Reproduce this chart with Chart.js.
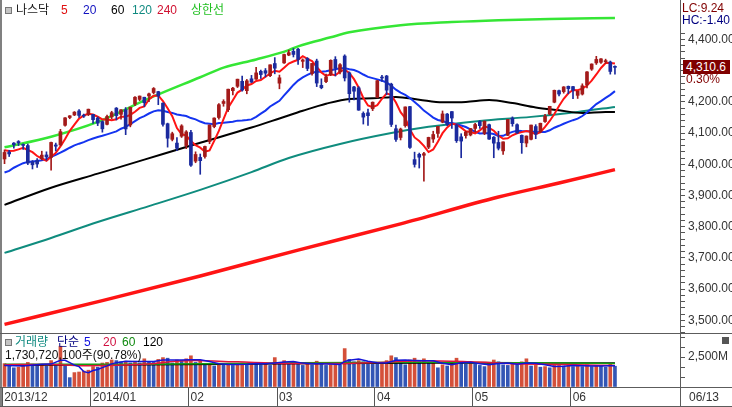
<!DOCTYPE html>
<html lang="ko">
<head>
<meta charset="utf-8">
<title>나스닥</title>
<script src="https://cdn.jsdelivr.net/npm/chart.js@4.4.1/dist/chart.umd.min.js"></script>
<style>
  html, body { margin:0; padding:0; background:#fff; }
  #wrap { position:relative; width:732px; height:407px; overflow:hidden; background:#fff;
          font-family:"Liberation Sans","Noto Sans CJK KR",sans-serif; font-size:12px; }
  canvas { position:absolute; left:0; }
  #price { top:0; }
  #vol { top:333px; }
  .t { position:absolute; white-space:nowrap; line-height:14px; z-index:3; }
  .ln { position:absolute; background:#5c5c5c; z-index:2; }
  .ico { position:absolute; width:5px; height:5px; border:1px solid #777; background:#c4c4c4; z-index:3; }
</style>
</head>
<body>
<div id="wrap">
  <canvas id="price" width="732" height="333"></canvas>
  <canvas id="vol" width="732" height="74"></canvas>

  <div class="ln" style="left:0;top:0;width:2px;height:407px;background:#808080"></div>
  <div class="ln" style="left:0;top:333px;width:732px;height:1px"></div>
  <div class="ln" style="left:0;top:387px;width:732px;height:1px"></div>
  <div class="ln" style="left:0;top:406px;width:732px;height:1px"></div>
  <div class="ln" style="left:680px;top:0;width:1px;height:407px"></div>

  <div class="ico" style="left:5px;top:7px"></div>
  <span class="t" style="left:16px;top:3px;color:#1a1a1a">나스닥</span>
  <span class="t" style="left:61px;top:3px;color:#e01010">5</span>
  <span class="t" style="left:83px;top:3px;color:#1010c0">20</span>
  <span class="t" style="left:111px;top:3px;color:#000">60</span>
  <span class="t" style="left:132px;top:3px;color:#108a80">120</span>
  <span class="t" style="left:157px;top:3px;color:#d01030">240</span>
  <span class="t" style="left:191px;top:3px;color:#22c022">상한선</span>

  <span class="t" style="left:682px;top:1px;color:#800000">LC:9.24</span>
  <span class="t" style="left:682px;top:13px;color:#000080">HC:-1.40</span>
  <span class="t" style="left:683px;top:60px;width:44px;height:14px;padding-left:3px;background:#800000;color:#fff">4,310.6</span>
  <span class="t" style="left:686px;top:72px;color:#800000">0.30%</span>

  <div class="ico" style="left:5px;top:339px"></div>
  <span class="t" style="left:15px;top:335px;color:#108a80">거래량</span>
  <span class="t" style="left:57px;top:335px;color:#000080">단순</span>
  <span class="t" style="left:84px;top:335px;color:#1010e0">5</span>
  <span class="t" style="left:103px;top:335px;color:#d01040">20</span>
  <span class="t" style="left:122px;top:335px;color:#108a10">60</span>
  <span class="t" style="left:143px;top:335px;color:#000">120</span>
  <span class="t" style="left:5px;top:348px;color:#111">1,730,720,100주(90.78%)</span>
  <div style="position:absolute;left:722px;top:337px;width:7px;height:7px;background:#555;z-index:3"></div>

  <span class="t" style="left:689px;top:390px;color:#333">06/13</span>
</div>

<script>
// ---------- data ----------
const dates = [
 '2013/12/04','2013/12/05','2013/12/06','2013/12/09','2013/12/10','2013/12/11','2013/12/12','2013/12/13','2013/12/16','2013/12/17','2013/12/18','2013/12/19','2013/12/20','2013/12/23','2013/12/24','2013/12/26','2013/12/27','2013/12/30','2013/12/31',
 '2014/01/02','2014/01/03','2014/01/06','2014/01/07','2014/01/08','2014/01/09','2014/01/10','2014/01/13','2014/01/14','2014/01/15','2014/01/16','2014/01/17','2014/01/21','2014/01/22','2014/01/23','2014/01/24','2014/01/27','2014/01/28','2014/01/29','2014/01/30','2014/01/31',
 '2014/02/03','2014/02/04','2014/02/05','2014/02/06','2014/02/07','2014/02/10','2014/02/11','2014/02/12','2014/02/13','2014/02/14','2014/02/18','2014/02/19','2014/02/20','2014/02/21','2014/02/24','2014/02/25','2014/02/26','2014/02/27','2014/02/28',
 '2014/03/03','2014/03/04','2014/03/05','2014/03/06','2014/03/07','2014/03/10','2014/03/11','2014/03/12','2014/03/13','2014/03/14','2014/03/17','2014/03/18','2014/03/19','2014/03/20','2014/03/21','2014/03/24','2014/03/25','2014/03/26','2014/03/27','2014/03/28','2014/03/31',
 '2014/04/01','2014/04/02','2014/04/03','2014/04/04','2014/04/07','2014/04/08','2014/04/09','2014/04/10','2014/04/11','2014/04/14','2014/04/15','2014/04/16','2014/04/17','2014/04/21','2014/04/22','2014/04/23','2014/04/24','2014/04/25','2014/04/28','2014/04/29','2014/04/30',
 '2014/05/01','2014/05/02','2014/05/05','2014/05/06','2014/05/07','2014/05/08','2014/05/09','2014/05/12','2014/05/13','2014/05/14','2014/05/15','2014/05/16','2014/05/19','2014/05/20','2014/05/21','2014/05/22','2014/05/23','2014/05/27','2014/05/28','2014/05/29','2014/05/30',
 '2014/06/02','2014/06/03','2014/06/04','2014/06/05','2014/06/06','2014/06/09','2014/06/10','2014/06/11','2014/06/12','2014/06/13'];

const opens = [
 4017,4039,4068,4073,4062,4060,4008,4013,4018,4030,4022,4062,4062,4125,4150,4158,4171,4157,4160,
 4160,4148,4137,4128,4152,4180,4160,4175,4126,4193,4208,4215,4219,4230,4233,4196,4130,4080,4068,4090,4060,
 4102,4010,4022,4025,4073,4121,4150,4195,4175,4236,4250,4266,4236,4274,4273,4298,4300,4284,4323,
 4260,4325,4350,4362,4369,4330,4339,4291,4331,4253,4265,4287,4336,4296,4347,4293,4248,4245,4163,4165,4178,
 4215,4279,4283,4257,4114,4086,4124,4185,4015,4032,4029,4055,4081,4099,4135,4161,4169,4126,4088,4092,4094,
 4115,4137,4099,4127,4087,4070,4043,4093,4148,4127,4093,4068,4080,4121,4104,4137,4161,4199,4236,4233,4250,
 4249,4221,4225,4255,4305,4325,4327,4329,4328,4314];
const highs = [
 4046,4045,4070,4076,4066,4065,4012,4018,4042,4040,4071,4068,4112,4150,4156,4169,4175,4161,4177,
 4160,4152,4139,4158,4170,4182,4175,4182,4183,4217,4219,4215,4228,4246,4234,4197,4132,4103,4086,4127,4108,
 4109,4040,4033,4058,4126,4149,4195,4207,4241,4247,4273,4283,4272,4285,4311,4302,4307,4319,4342,
 4286,4353,4366,4371,4372,4338,4342,4324,4337,4274,4289,4335,4345,4323,4351,4296,4250,4249,4168,4177,4200,
 4269,4285,4285,4260,4126,4116,4184,4186,4039,4036,4038,4087,4106,4122,4171,4163,4169,4128,4098,4106,4115,
 4131,4140,4139,4129,4089,4106,4072,4144,4152,4130,4094,4091,4126,4127,4132,4160,4186,4238,4238,4249,4251,
 4250,4235,4258,4297,4322,4346,4339,4337,4331,4316];
const lows = [
 4002,4025,4052,4060,4048,3999,3985,3990,4014,4013,3981,4043,4060,4122,4146,4156,4150,4150,4156,
 4131,4124,4103,4126,4146,4142,4145,4095,4120,4188,4204,4185,4201,4226,4191,4122,4055,4075,4044,4086,4050,
 3993,4005,3968,4020,4066,4117,4145,4186,4169,4222,4246,4234,4226,4262,4272,4275,4280,4281,4290,
 4242,4323,4348,4344,4320,4310,4300,4286,4249,4242,4262,4284,4283,4290,4267,4199,4206,4173,4129,4125,4172,
 4213,4266,4223,4121,4073,4078,4119,4051,3991,3988,3946,4050,4070,4086,4133,4124,4115,4070,4021,4084,4091,
 4103,4115,4095,4080,4021,4046,4032,4092,4122,4099,4035,4056,4078,4082,4101,4134,4159,4197,4219,4228,4226,
 4210,4211,4222,4245,4301,4320,4323,4323,4289,4289];
const closes = [
 4038.0,4033.2,4062.5,4068.8,4060.5,4003.8,3998.4,4001.0,4029.5,4023.7,4070.1,4058.1,4104.7,4148.9,4155.4,4167.2,4156.6,4154.2,4176.6,
 4143.1,4131.9,4113.7,4153.2,4165.6,4156.2,4174.7,4113.3,4183.0,4214.9,4218.7,4197.6,4225.8,4243.0,4218.9,4128.2,4083.6,4098.0,4051.4,4123.1,4103.9,
 3997.0,4031.5,4011.6,4057.1,4125.9,4148.2,4191.1,4201.3,4240.7,4244.0,4272.8,4238.0,4267.6,4263.4,4293.0,4287.6,4292.1,4318.9,4308.1,
 4277.3,4352.0,4358.0,4352.1,4336.2,4334.5,4307.2,4323.3,4260.4,4245.4,4280.0,4333.3,4307.6,4319.3,4276.8,4226.4,4234.3,4173.6,4151.2,4155.8,4199.0,
 4268.0,4276.5,4237.7,4127.7,4079.8,4113.0,4183.9,4054.1,3999.7,4022.7,4034.2,4086.2,4095.5,4121.6,4161.5,4127.0,4148.3,4075.6,4074.4,4103.5,4114.6,
 4127.5,4123.9,4138.1,4080.8,4067.7,4051.5,4071.9,4143.9,4130.2,4100.6,4069.3,4090.6,4125.8,4096.9,4131.5,4154.3,4185.8,4237.1,4225.1,4248.0,4242.6,
 4237.2,4234.1,4251.6,4296.2,4321.4,4336.2,4338.0,4331.9,4297.6,4310.7];

// volume in millions of shares
const volumes = [
 1950,1750,1600,1650,1850,2050,1900,1850,1850,1750,2200,1900,3400,1850,780,1200,1250,1330,1400,
 1700,1650,2000,2050,2250,2200,2100,2150,2000,2150,2000,2350,2100,2050,2300,2450,2400,2000,2250,2200,2350,
 2600,2050,2150,1900,1950,1750,1900,1850,1900,1800,1950,2000,1850,2050,1950,1850,2000,1800,2450,
 2000,2200,1900,2100,1950,1800,1950,1850,2150,1950,1800,1850,1950,1850,3200,2300,2100,2200,2100,2000,1950,
 1900,2000,2200,2600,2450,2100,1850,2250,2400,2100,2350,2000,2100,1600,1850,1750,2000,2400,2100,1900,1950,
 1900,1800,1700,1950,2250,2100,1850,1800,1900,1850,2100,2350,1750,1800,1650,1700,1600,1800,1800,1750,1950,
 1700,1750,1700,1850,1700,1800,1750,1650,1906,1731];

const ma5 = [
 4045.0,4042.7,4043.2,4047.9,4052.6,4045.8,4038.8,4026.5,4018.6,4011.3,4024.5,4036.5,4057.2,4081.1,4107.4,4126.9,4146.6,4156.5,4162.0,
 4159.5,4152.5,4143.9,4143.7,4141.5,4144.1,4152.7,4152.6,4158.6,4168.4,4180.9,4185.5,4208.0,4220.0,4220.8,4202.7,4179.9,4154.3,4116.0,4096.9,4092.0,
 4074.7,4061.4,4053.4,4040.2,4044.6,4074.9,4106.8,4144.7,4181.4,4205.1,4230.0,4239.4,4252.6,4257.2,4267.0,4269.9,4280.7,4291.0,4299.9,
 4296.8,4309.7,4322.9,4329.5,4335.1,4346.6,4337.6,4330.7,4312.3,4294.2,4283.3,4288.5,4285.3,4297.1,4303.4,4292.7,4272.9,4246.1,4212.5,4188.3,4182.8,
 4189.5,4210.1,4227.4,4221.8,4197.9,4166.9,4148.4,4111.7,4086.1,4074.7,4058.9,4039.4,4047.7,4072.0,4099.8,4118.4,4130.8,4126.8,4117.4,4105.8,4103.3,
 4099.1,4108.8,4121.5,4117.0,4107.6,4092.4,4082.0,4083.2,4093.0,4099.6,4103.2,4106.9,4103.3,4096.6,4102.8,4119.8,4138.9,4161.1,4186.8,4210.1,4227.7,
 4238.0,4237.4,4242.7,4252.3,4268.1,4287.9,4308.7,4324.7,4325.0,4322.9];
const ma20 = [
 3973.6,3978.7,3989.0,3996.4,4003.5,4007.7,4009.3,4010.7,4012.9,4016.6,4023.6,4030.4,4037.2,4045.0,4053.1,4060.5,4066.1,4070.9,4077.4,
 4082.7,4087.4,4091.4,4096.0,4100.8,4105.6,4114.1,4119.9,4129.0,4138.3,4148.0,4154.4,4162.8,4169.7,4173.2,4171.8,4167.6,4164.7,4159.6,4156.9,4154.9,
 4148.2,4144.1,4137.0,4131.6,4130.1,4128.7,4132.6,4133.5,4134.8,4136.1,4139.9,4140.5,4141.7,4143.9,4152.2,4162.4,4172.1,4185.4,4194.7,
 4203.4,4221.1,4237.4,4254.5,4268.4,4278.8,4286.8,4293.4,4296.4,4296.6,4298.4,4301.4,4304.9,4307.5,4308.2,4304.8,4302.2,4296.2,4287.8,4280.2,4276.3,
 4272.1,4268.0,4262.3,4251.9,4239.2,4229.5,4222.5,4212.2,4199.9,4187.0,4172.1,4161.0,4149.8,4142.0,4138.8,4133.4,4132.2,4128.4,4124.3,4119.5,4111.9,
 4104.4,4098.7,4099.3,4099.3,4097.0,4090.4,4091.3,4098.5,4103.9,4107.2,4106.4,4106.1,4106.3,4103.1,4103.3,4103.6,4109.1,4117.3,4123.4,4130.0,4135.8,
 4141.4,4146.2,4154.8,4166.2,4179.7,4192.9,4202.6,4212.7,4222.6,4234.6];

// smooth long lines, read at these day positions
const ma60Days = [0,10,20,30,42,53,59,64,69,74,79,84,89,94,99,104,109,114,119,124,129,131];
const ma60 = [3870,3925,3970,4015,4069,4118,4147,4171.5,4194.2,4209.6,4211.5,4216.0,4207.2,4198.6,4199.7,4205.8,4196.4,4182.2,4173.1,4164.4,4167.9,4167.3];
const ma120Days = [0,10,20,31,42,53,61,72,83,91,102,113,123,131];
const ma120 = [3716,3764,3815,3866,3918,3975,4020,4065,4100,4120,4139,4152,4168,4184];
const ma240Days = [0,21,42,63,85,106,119,131];
const ma240 = [3487,3563,3642,3725,3809,3895,3940,3983];
const upperDays = [0,10,20,31,42,47,54,61,63,70,74,85,96,106,117,131];
const upperLine = [4054.5,4088.5,4136,4211,4279,4310,4336,4366,4378,4407,4423,4446,4456,4462,4466,4469];

const vol5Days = [0,4,8,10,12,13,14,15,16,17,18,19,20,21,22,23,24,26,28,30,32,34,36,38,40,42,44,46,48,50,52,54,56,58,60,62,64,66,68,70,72,73,74,76,78,80,82,84,86,88,90,92,94,96,98,100,102,104,106,108,110,112,114,116,118,120,122,124,126,128,130,131];
const vol5 = [1800,1760,1900,1910,2220,2220,2026,1826,1696,1282,1192,1376,1466,1616,1760,1930,2030,2150,2120,2130,2130,2250,2240,2260,2280,2270,2130,1930,1870,1880,1900,1960,1940,2010,2090,2130,1990,1930,1940,1920,1880,2130,2230,2330,2140,2030,2010,2230,2240,2210,2190,2190,1980,1860,2020,2070,1930,1860,1960,1990,1900,2000,1970,1850,1710,1730,1800,1770,1740,1760,1761,1767];
const vol20Days = [0,10,18,30,40,50,60,70,80,90,100,110,120,131];
const vol20 = [1860,1880,1764,1886,2198,2095,1968,1960,2043,2193,2098,1938,1870,1784];
const vol60Days = [0,30,60,90,120,131];
const vol60 = [1900,1900,2010,2070,2010,1960];
const vol120Days = [0,30,60,90,120,131];
const vol120 = [1820,1860,1930,1990,2000,1990];

const monthStarts = [0,19,40,59,80,101,122];
const monthLabels = ['2013/12','2014/01','02','03','04','05','06'];
const priceTickLabels = [3500,3600,3700,3800,3900,4000,4100,4200,4400];
const volTickLabel = 2500;

// ---------- chart ----------
const X_MIN = -0.54, X_MAX = 144.96;
const P_MIN = 3459.3, P_MAX = 4526.6;
const V_MAX = 4416.7;
const UP = '#A31A1A', DOWN = '#1B2A9E';
const FONT = { family: "'Liberation Sans', 'Noto Sans CJK KR', sans-serif", size: 12 };

const candleColors = opens.map((o, i) => closes[i] >= o ? UP : DOWN);
const volColors = volumes.map((v, i) => (i === 0 || v >= volumes[i - 1]) ? '#D4503A' : '#3356B5');
const pts = (days, vals) => days.map((d, k) => ({ x: d, y: vals[k] }));
const daily = vals => vals.map((v, i) => ({ x: i, y: v }));
const fmtPrice = v => v.toLocaleString('en-US', { minimumFractionDigits: 2, maximumFractionDigits: 2 });

const minorPriceTicks = [];
for (let v = 3460; v <= 4420; v += 20) minorPriceTicks.push(v);
const volTicks = [0, volTickLabel / 3, volTickLabel * 2 / 3, volTickLabel, volTickLabel * 4 / 3, volTickLabel * 5 / 3];

function lineDs(data, color, width, order, smooth) {
  return { type: 'line', data, borderColor: color, borderWidth: width, pointRadius: 0, fill: false,
           tension: 0, cubicInterpolationMode: smooth ? 'monotone' : 'default', order };
}

new Chart(document.getElementById('price'), {
  type: 'bar',
  data: { datasets: [
    { type: 'bar', data: lows.map((l, i) => ({ x: i, y: [l, highs[i]] })), backgroundColor: candleColors,
      barThickness: 1, grouped: false, borderWidth: 0, order: 1 },
    { type: 'bar', data: opens.map((o, i) => ({ x: i, y: [o, closes[i]] })), backgroundColor: candleColors,
      barThickness: 3, minBarLength: 1, grouped: false, borderWidth: 0, order: 0 },
    lineDs(pts(upperDays, upperLine), '#35E635', 2.5, 8, true),
    lineDs(pts(ma240Days, ma240), '#FF1414', 3.5, 7, true),
    lineDs(pts(ma120Days, ma120), '#0F8C7E', 2, 6, true),
    lineDs(pts(ma60Days, ma60), '#000000', 2, 5, true),
    lineDs(daily(ma20), '#1434F0', 2, 4, false),
    lineDs(daily(ma5), '#FF1414', 2, 3, false)
  ]},
  options: {
    responsive: false, animation: false, events: [],
    layout: { padding: { left: 2, right: 0, top: 0, bottom: 0 } },
    plugins: { legend: { display: false }, tooltip: { enabled: false } },
    scales: {
      x: { type: 'linear', min: X_MIN, max: X_MAX, display: false, offset: false, grid: { offset: false } },
      y: { type: 'linear', position: 'right', min: P_MIN, max: P_MAX,
           afterBuildTicks: s => { s.ticks = minorPriceTicks.map(v => ({ value: v })); },
           afterFit: s => { s.width = 52; s.paddingTop = 0; s.paddingBottom = 0; },
           ticks: { autoSkip: false, padding: 3, color: '#333', font: FONT,
                    callback: v => priceTickLabels.includes(v) ? fmtPrice(v) : '' },
           grid: { display: true, offset: false, drawOnChartArea: false, drawTicks: true, tickLength: 5, color: '#555' },
           border: { display: false } }
    }
  }
});

new Chart(document.getElementById('vol'), {
  type: 'bar',
  data: { datasets: [
    { type: 'bar', data: daily(volumes), backgroundColor: volColors, barThickness: 3, grouped: false, borderWidth: 0, order: 10 },
    lineDs(pts(vol120Days, vol120), '#000000', 1.5, 4, true),
    lineDs(pts(vol60Days, vol60), '#12A012', 1.5, 3, true),
    lineDs(pts(vol20Days, vol20), '#E0143C', 1.5, 2, true),
    lineDs(pts(vol5Days, vol5), '#1414D8', 1.5, 1, false)
  ]},
  options: {
    responsive: false, animation: false, events: [],
    layout: { padding: { left: 2, right: 0, top: 1, bottom: 0 } },
    plugins: { legend: { display: false }, tooltip: { enabled: false } },
    scales: {
      x: { type: 'linear', min: X_MIN, max: X_MAX, position: 'bottom', offset: false,
           afterBuildTicks: s => { s.ticks = monthStarts.map(i => ({ value: i - 0.5 })); },
           afterFit: s => { s.height = 20; s.paddingLeft = 0; s.paddingRight = 0; },
           ticks: { autoSkip: false, maxRotation: 0, minRotation: 0, align: 'start', labelOffset: 2, padding: -17,
                    color: '#333', font: FONT, callback: (v, k) => monthLabels[k] },
           grid: { display: true, offset: false, drawOnChartArea: false, drawTicks: true, tickLength: 20, color: '#555' },
           border: { display: false } },
      y: { type: 'linear', position: 'right', min: 0, max: V_MAX,
           afterBuildTicks: s => { s.ticks = volTicks.map(v => ({ value: v })); },
           afterFit: s => { s.width = 52; s.paddingTop = 0; s.paddingBottom = 0; },
           ticks: { autoSkip: false, padding: 3, color: '#333', font: FONT,
                    callback: v => v === volTickLabel ? '2,500M' : '' },
           grid: { display: true, offset: false, drawOnChartArea: false, drawTicks: true, tickLength: 5, color: '#555' },
           border: { display: false } }
    }
  }
});
</script>
</body>
</html>
